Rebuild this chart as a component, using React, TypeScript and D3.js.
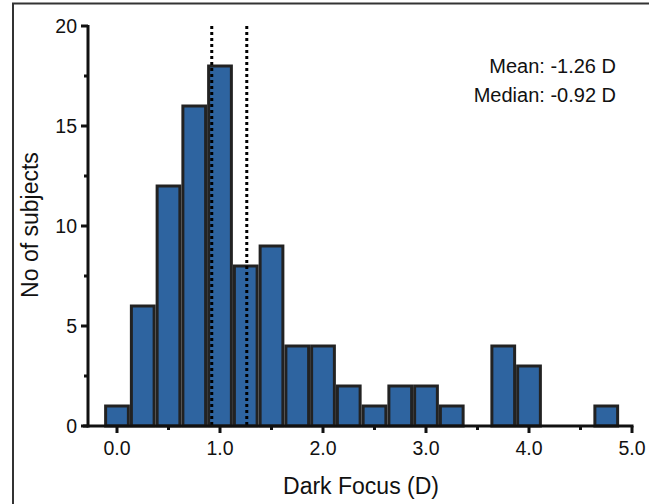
import React from "react";
import * as d3 from "d3";

// bin centres (D) and counts, bin width 0.25 D
const binCenters = [0, 0.25, 0.5, 0.75, 1.0, 1.25, 1.5, 1.75, 2.0, 2.25, 2.5, 2.75, 3.0, 3.25, 3.5, 3.75, 4.0, 4.25, 4.5, 4.75];
const counts = [1, 6, 12, 16, 18, 8, 9, 4, 4, 2, 1, 2, 2, 1, 0, 4, 3, 0, 0, 1];
const binWidth = 0.25;
const refLines = [0.92, 1.26]; // median, mean (magnitude)
const xTicks = [0, 1, 2, 3, 4, 5];
const xMinor = [0.5, 1.5, 2.5, 3.5, 4.5];
const yTicks = [0, 5, 10, 15, 20];
const yMinor = [2.5, 7.5, 12.5, 17.5];
const notes = ["Mean: -1.26 D", "Median: -0.92 D"];

const App = () => {
	const width = 649;
	const height = 504;
	const x = d3.scaleLinear().domain([0, 5]).range([117, 632]);
	const y = d3.scaleLinear().domain([0, 20]).range([426, 26]);
	const font = "'Liberation Sans', Arial, Helvetica, sans-serif";
	const axisColor = "#111";

	return (
		<svg width={width} height={height} style={{ position: "absolute", left: 0, top: 0 }} fontFamily={font}>
			<rect x={0} y={0} width={width} height={height} fill="#fff" />
			{/* outer frame, cut off at right & bottom */}
			<rect x={13} y={3.5} width={width + 10} height={height + 10} fill="none" stroke="#333" strokeWidth={2} />

			{/* bars */}
			{counts.map((c, i) =>
				c > 0 ? (
					<rect
						key={i}
						x={x(binCenters[i] - binWidth / 2) + 1.5}
						y={y(c)}
						width={x(binWidth) - x(0) - 3}
						height={y(0) - y(c)}
						fill="#2e64a0"
						stroke="#222"
						strokeWidth={3}
					/>
				) : null
			)}

			{/* dotted reference lines */}
			{refLines.map((v) => (
				<line key={v} x1={x(v)} x2={x(v)} y1={26} y2={y(0)} stroke="#000" strokeWidth={3} strokeDasharray="3,3" />
			))}

			{/* y axis */}
			<line x1={88} x2={88} y1={y(20) - 1} y2={y(0) + 1.5} stroke={axisColor} strokeWidth={3} />
			{yTicks.map((t) => (
				<g key={t}>
					<line x1={81} x2={88} y1={y(t)} y2={y(t)} stroke={axisColor} strokeWidth={3} />
					<text x={77} y={y(t) + 7} textAnchor="end" fontSize={19.5} fill="#111">
						{t}
					</text>
				</g>
			))}
			{yMinor.map((t) => (
				<line key={t} x1={84} x2={88} y1={y(t)} y2={y(t)} stroke={axisColor} strokeWidth={3} />
			))}

			{/* x axis */}
			<line x1={83} x2={x(5) + 1.5} y1={y(0)} y2={y(0)} stroke={axisColor} strokeWidth={3} />
			{xTicks.map((t) => (
				<g key={t}>
					<line x1={x(t)} x2={x(t)} y1={y(0)} y2={y(0) + 7} stroke={axisColor} strokeWidth={3} />
					<text x={x(t)} y={455} textAnchor="middle" fontSize={19.5} fill="#111">
						{d3.format(".1f")(t)}
					</text>
				</g>
			))}
			{xMinor.map((t) => (
				<line key={t} x1={x(t)} x2={x(t)} y1={y(0)} y2={y(0) + 4} stroke={axisColor} strokeWidth={3} />
			))}

			{/* annotations */}
			{notes.map((n, i) => (
				<text key={n} x={616} y={73 + i * 29} textAnchor="end" fontSize={20} fill="#111">
					{n}
				</text>
			))}

			{/* axis titles */}
			<text x={361} y={494} textAnchor="middle" fontSize={23} fill="#111">
				Dark Focus (D)
			</text>
			<text transform="translate(38,225) rotate(-90)" textAnchor="middle" fontSize={23} fill="#111">
				No of subjects
			</text>
		</svg>
	);
};

export default App;
